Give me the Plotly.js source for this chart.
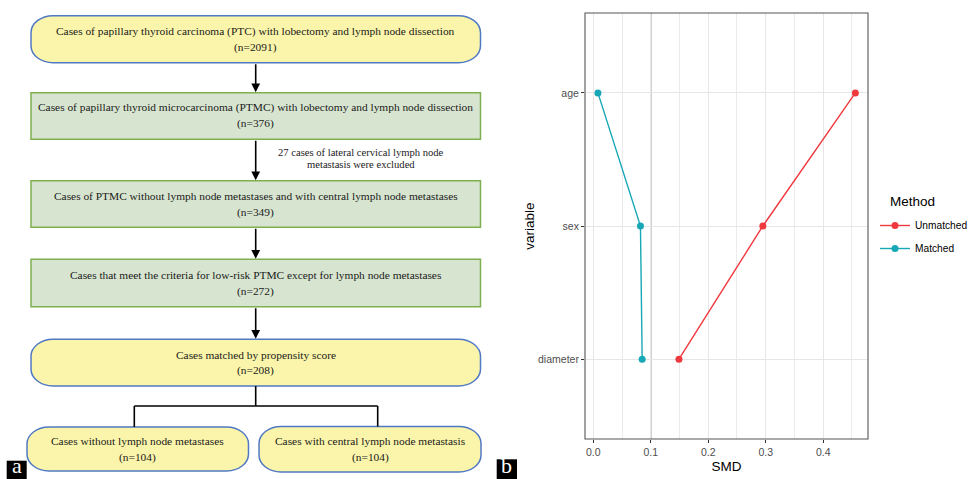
<!DOCTYPE html>
<html>
<head>
<meta charset="utf-8">
<script src="https://cdn.plot.ly/plotly-3.0.1.min.js"></script>
<style>html,body{margin:0;padding:0;background:#fff;}#chart{width:971px;height:479px;}</style>
</head>
<body>
<div id="chart"></div>
<script>
// ---- Panel b data (standardized mean differences) ----
const variables = ['age', 'sex', 'diameter'];
const unmatchedSMD = [0.456, 0.295, 0.149];
const matchedSMD = [0.008, 0.082, 0.085];
const methodNames = ['Unmatched', 'Matched'];
const categoryOrder = ['diameter', 'sex', 'age'];
const xTickVals = [0, 0.1, 0.2, 0.3, 0.4];
const xTickText = ['0.0', '0.1', '0.2', '0.3', '0.4'];
const thresholdSMD = 0.1;

// ---- Panel a data (flowchart text) ----
const flowTitles = [
  'Cases of papillary thyroid carcinoma (PTC) with lobectomy and lymph node dissection',
  'Cases of papillary thyroid microcarcinoma (PTMC) with lobectomy and lymph node dissection',
  'Cases of PTMC without lymph node metastases and with central lymph node metastases',
  'Cases that meet the criteria for low-risk PTMC except for lymph node metastases',
  'Cases matched by propensity score',
  'Cases without lymph node metastases',
  'Cases with central lymph node metastasis'
];
const flowCounts = [2091, 376, 349, 272, 208, 104, 104];
const exclusionNote = ['27 cases of lateral cervical lymph node', 'metastasis were excluded'];

// ---- layout geometry for the flowchart (page pixels) ----
const W = 971, H = 479;
const px = v => v / W;
const py = v => 1 - v / H;
const boxGeom = [
  {x0: 31, x1: 480.5, y0: 15.7, y1: 62.7, kind: 'pill'},
  {x0: 31, x1: 480.5, y0: 92.7, y1: 139.3, kind: 'rect'},
  {x0: 31, x1: 480.5, y0: 180.7, y1: 227.3, kind: 'rect'},
  {x0: 31, x1: 480.5, y0: 259.3, y1: 306.7, kind: 'rect'},
  {x0: 31, x1: 480.5, y0: 339.3, y1: 386, kind: 'pill'},
  {x0: 27, x1: 248.5, y0: 427, y1: 471, kind: 'pill'},
  {x0: 259, x1: 481, y0: 426.5, y1: 472, kind: 'pill'}
];
const PILL_FILL = '#faf5aa', PILL_LINE = '#5079c4';
const RECT_FILL = '#d7e5d0', RECT_LINE = '#7fb04f';
const SERIF = 'Liberation Serif, Times New Roman, serif';
const SANS = 'Liberation Sans, Arial, sans-serif';

function pillPath(b, rx, ry) {
  const k = 0.5523;
  const {x0, x1, y0, y1} = b;
  const P = (x, y) => `${px(x).toFixed(5)},${py(y).toFixed(5)}`;
  return `M ${P(x0 + rx, y0)} L ${P(x1 - rx, y0)} ` +
    `C ${P(x1 - rx + k * rx, y0)} ${P(x1, y0 + ry - k * ry)} ${P(x1, y0 + ry)} ` +
    `L ${P(x1, y1 - ry)} ` +
    `C ${P(x1, y1 - ry + k * ry)} ${P(x1 - rx + k * rx, y1)} ${P(x1 - rx, y1)} ` +
    `L ${P(x0 + rx, y1)} ` +
    `C ${P(x0 + rx - k * rx, y1)} ${P(x0, y1 - ry + k * ry)} ${P(x0, y1 - ry)} ` +
    `L ${P(x0, y0 + ry)} ` +
    `C ${P(x0, y0 + ry - k * ry)} ${P(x0 + rx - k * rx, y0)} ${P(x0 + rx, y0)} Z`;
}

const shapes = [];
const annotations = [];

boxGeom.forEach((b, i) => {
  if (b.kind === 'pill') {
    shapes.push({type: 'path', xref: 'paper', yref: 'paper', path: pillPath(b, 22, 17),
      fillcolor: PILL_FILL, line: {color: PILL_LINE, width: 1.5}, layer: 'above'});
  } else {
    shapes.push({type: 'rect', xref: 'paper', yref: 'paper', x0: px(b.x0), x1: px(b.x1), y0: py(b.y0), y1: py(b.y1),
      fillcolor: RECT_FILL, line: {color: RECT_LINE, width: 1.5}, layer: 'above'});
  }
  const cx = (b.x0 + b.x1) / 2;
  const cy = (b.y0 + b.y1) / 2;
  annotations.push({xref: 'paper', yref: 'paper', x: px(cx), y: py(cy - 8), text: flowTitles[i], showarrow: false,
    xanchor: 'center', yanchor: 'middle', font: {family: SERIF, size: 11.4, color: '#1a1a1a'}});
  annotations.push({xref: 'paper', yref: 'paper', x: px(cx), y: py(cy + 8), text: '(n=' + flowCounts[i] + ')', showarrow: false,
    xanchor: 'center', yanchor: 'middle', font: {family: SERIF, size: 11.4, color: '#1a1a1a'}});
});

// arrows between consecutive boxes
const CX = 255.7;
[[0, 1], [1, 2], [2, 3], [3, 4]].forEach(([a, b]) => {
  const head = boxGeom[b].y0 - 0.5, tail = boxGeom[a].y1;
  annotations.push({xref: 'paper', yref: 'paper', x: px(CX), y: py(head), ax: 0, ay: -(head - tail),
    showarrow: true, arrowhead: 2, arrowsize: 1.1, arrowwidth: 1.6, arrowcolor: '#000', text: ''});
});
// split connector to the two final boxes
const splitY = 406;
const leftX = 134.3, rightX = 377.7;
[[CX, boxGeom[4].y1, CX, splitY], [leftX, splitY, rightX, splitY],
 [leftX, splitY, leftX, boxGeom[5].y0], [rightX, splitY, rightX, boxGeom[6].y0]].forEach(s => {
  shapes.push({type: 'line', xref: 'paper', yref: 'paper', x0: px(s[0]), y0: py(s[1]), x1: px(s[2]), y1: py(s[3]),
    line: {color: '#000', width: 1.6}, layer: 'above'});
});
// exclusion note
annotations.push({xref: 'paper', yref: 'paper', x: px(361), y: py(152), text: exclusionNote[0], showarrow: false,
  xanchor: 'center', yanchor: 'middle', font: {family: SERIF, size: 10.6, color: '#1a1a1a'}});
annotations.push({xref: 'paper', yref: 'paper', x: px(361), y: py(164.5), text: exclusionNote[1], showarrow: false,
  xanchor: 'center', yanchor: 'middle', font: {family: SERIF, size: 10.6, color: '#1a1a1a'}});

// panel letters
[['a', 6.7, 26.7, 460.7], ['b', 496.7, 517, 459.3]].forEach(([t, x0, x1, y0]) => {
  shapes.push({type: 'rect', xref: 'paper', yref: 'paper', x0: px(x0), x1: px(x1), y0: py(y0), y1: 0,
    fillcolor: '#000', line: {width: 0}, layer: 'above'});
  annotations.push({xref: 'paper', yref: 'paper', x: px((x0 + x1) / 2), y: 0, text: t, showarrow: false,
    xanchor: 'center', yanchor: 'bottom', borderpad: 0, font: {family: SERIF, size: 22, color: '#fff'}});
});

// threshold line and panel border in panel b
shapes.push({type: 'line', xref: 'x', yref: 'y domain', x0: thresholdSMD, x1: thresholdSMD, y0: 0, y1: 1,
  line: {color: '#7a7a7a', width: 1.1}, layer: 'below'});
shapes.push({type: 'rect', xref: 'x domain', yref: 'y domain', x0: 0, x1: 1, y0: 0, y1: 1,
  line: {color: '#555', width: 1.1}, fillcolor: 'rgba(0,0,0,0)', layer: 'above'});

// legend title
annotations.push({xref: 'paper', yref: 'paper', x: px(888), y: py(202), xanchor: 'left', yanchor: 'middle',
  text: 'Method', showarrow: false, font: {family: SANS, size: 13.5, color: '#000'}});

const RED = '#f0393f', TEAL = '#17a7b6';
const traces = [
  {x: unmatchedSMD, y: variables, name: methodNames[0], type: 'scatter', mode: 'lines+markers',
   line: {color: RED, width: 1.4}, marker: {color: RED, size: 7}, legendgroup: 'u'},
  {x: matchedSMD, y: variables, name: methodNames[1], type: 'scatter', mode: 'lines+markers',
   line: {color: TEAL, width: 1.4}, marker: {color: TEAL, size: 7}, legendgroup: 'm'}
];

const layout = {
  width: W, height: H,
  margin: {l: 0, r: 0, t: 0, b: 0, autoexpand: false},
  paper_bgcolor: '#fff', plot_bgcolor: '#fff',
  showlegend: true,
  font: {family: SANS, color: '#000'},
  xaxis: {
    domain: [585 / W, 868 / W], anchor: 'y', range: [-0.0145, 0.478],
    tickvals: xTickVals, ticktext: xTickText, ticks: 'outside', ticklen: 3, tickcolor: '#333',
    tickfont: {family: SANS, size: 10.5, color: '#4d4d4d'},
    showgrid: true, gridcolor: '#e6e6e6', gridwidth: 1,
    minor: {dtick: 0.05, tick0: 0, showgrid: true, gridcolor: '#ebebeb', gridwidth: 1},
    showline: false, zeroline: false, automargin: false,
    title: {text: 'SMD', font: {family: SANS, size: 13.5, color: '#000'}, standoff: 4},
    fixedrange: true
  },
  yaxis: {
    domain: [(H - 439) / H, (H - 13) / H], anchor: 'x',
    type: 'category', categoryorder: 'array', categoryarray: categoryOrder, range: [-0.6, 2.6],
    ticks: 'outside', ticklen: 3, tickcolor: '#333',
    tickfont: {family: SANS, size: 10.5, color: '#4d4d4d'},
    showgrid: true, gridcolor: '#e6e6e6', gridwidth: 1,
    showline: false, zeroline: false, automargin: false,
    title: {text: 'variable', font: {family: SANS, size: 13.5, color: '#000'}, standoff: 0},
    fixedrange: true
  },
  legend: {x: 875 / W, xanchor: 'left', y: py(211), yanchor: 'top',
    font: {family: SANS, size: 10.2, color: '#000'}, bgcolor: 'rgba(0,0,0,0)', traceorder: 'grouped',
    tracegroupgap: 4, borderwidth: 0},
  shapes: shapes,
  annotations: annotations
};

Plotly.newPlot('chart', traces, layout, {displayModeBar: false, staticPlot: true});
</script>
</body>
</html>
